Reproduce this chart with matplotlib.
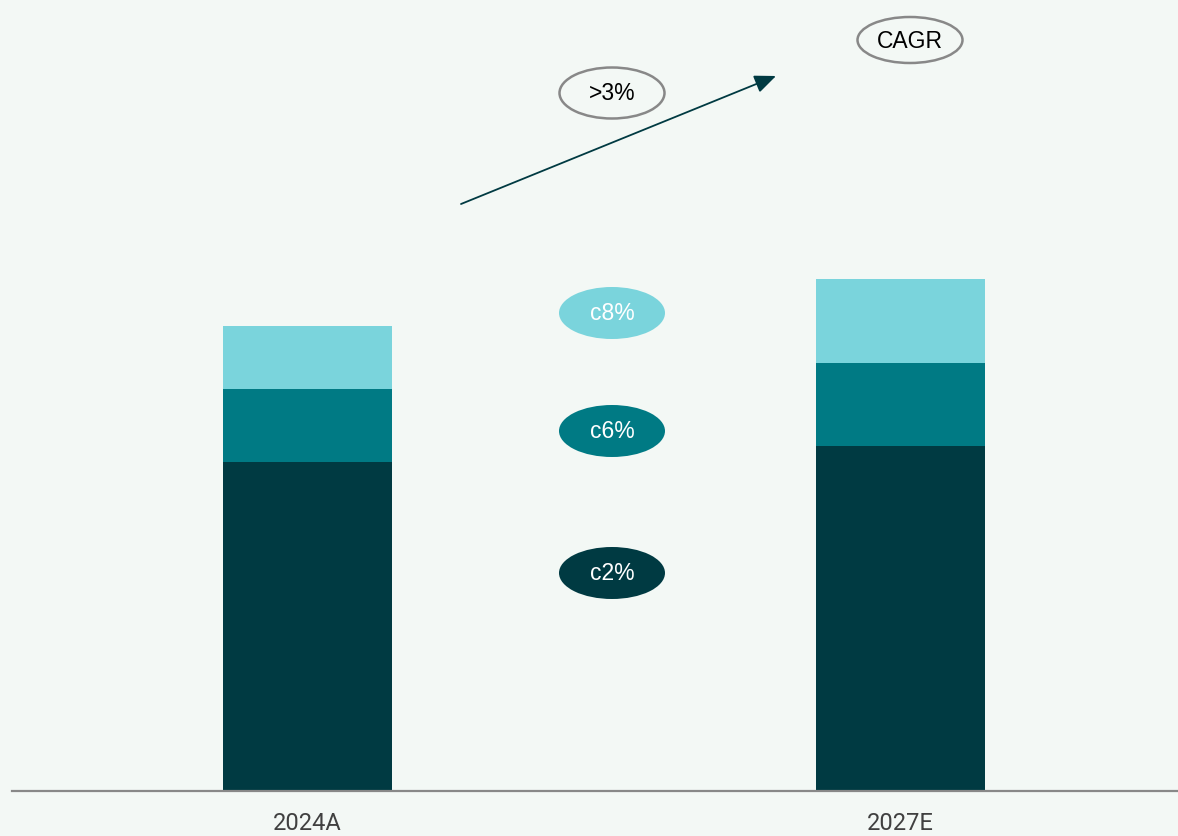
import matplotlib
matplotlib.use("Agg")
import matplotlib.pyplot as plt
from matplotlib.patches import Ellipse

# stacked bar values (in pixel-height units)
years = ["2024A", "2027E"]
core = [329, 345]
middle = [73, 83]
upper = [63, 84]

# CAGR labels per segment
cagr_labels = ["c2%", "c6%", "c8%"]
total_cagr = ">3%"

bg = "#f3f8f5"
c_dark = "#003a42"
c_mid = "#007a84"
c_light = "#7ad4dc"

fig = plt.figure(figsize=(11.78, 8.36), dpi=100, facecolor=bg)
ax = fig.add_axes([0, 45 / 836, 1, 791 / 836])
ax.set_facecolor(bg)

x = [0, 1]
w = 169 / 593
bottom2 = [a + b for a, b in zip(core, middle)]
ax.bar(x, core, width=w, color=c_dark, zorder=2)
ax.bar(x, middle, width=w, bottom=core, color=c_mid, zorder=2)
ax.bar(x, upper, width=w, bottom=bottom2, color=c_light, zorder=2)

ax.set_xlim(-307.5 / 593, (1178 - 307.5) / 593)
ax.set_ylim(0, 791)

for s in ax.spines.values():
    s.set_visible(False)
ax.axhline(0, xmin=12 / 1178, xmax=1, color="#888888", lw=1.6, zorder=3, clip_on=False)

ax.set_yticks([])
ax.set_xticks(x)
ax.set_xticklabels(years, fontsize=17, color="#404040", family="Roboto")
ax.tick_params(axis="x", length=0, pad=15)

# ellipse labels
ex = (612 - 307.5) / 593
ew = 106 / 593
eh = 52
label_y = [791 - 573, 791 - 431, 791 - 313]
label_col = [c_dark, c_mid, c_light]
for lab, yy, col in zip(cagr_labels, label_y, label_col):
    ax.add_patch(Ellipse((ex, yy), ew, eh, facecolor=col, edgecolor="none", zorder=4))
    ax.text(ex, yy - 1, lab, ha="center", va="center", color="white", fontsize=16.5,
            family="Liberation Sans", zorder=5)

# outlined ellipses
ax.add_patch(Ellipse((ex, 791 - 93), 105 / 593, 51, facecolor=bg, edgecolor="#888888",
                     lw=1.8, zorder=4))
ax.text(ex, 791 - 94, total_cagr, ha="center", va="center", color="black", fontsize=16.5,
        family="Liberation Sans", zorder=5)
cx = (910 - 307.5) / 593
ax.add_patch(Ellipse((cx, 791 - 40), 105 / 593, 46, facecolor=bg, edgecolor="#888888",
                     lw=1.8, zorder=4, clip_on=False))
ax.text(cx, 791 - 41, "CAGR", ha="center", va="center", color="black", fontsize=16.5,
        family="Liberation Sans", zorder=5)

# growth arrow
ax.annotate("", xy=((776 - 307.5) / 593, 791 - 76), xytext=((461 - 307.5) / 593, 791 - 204),
            arrowprops=dict(arrowstyle="-|>,head_length=1.3,head_width=0.55",
                            color=c_dark, lw=1.3, shrinkA=0, shrinkB=0))

fig.savefig("out.png", dpi=100, facecolor=bg)
